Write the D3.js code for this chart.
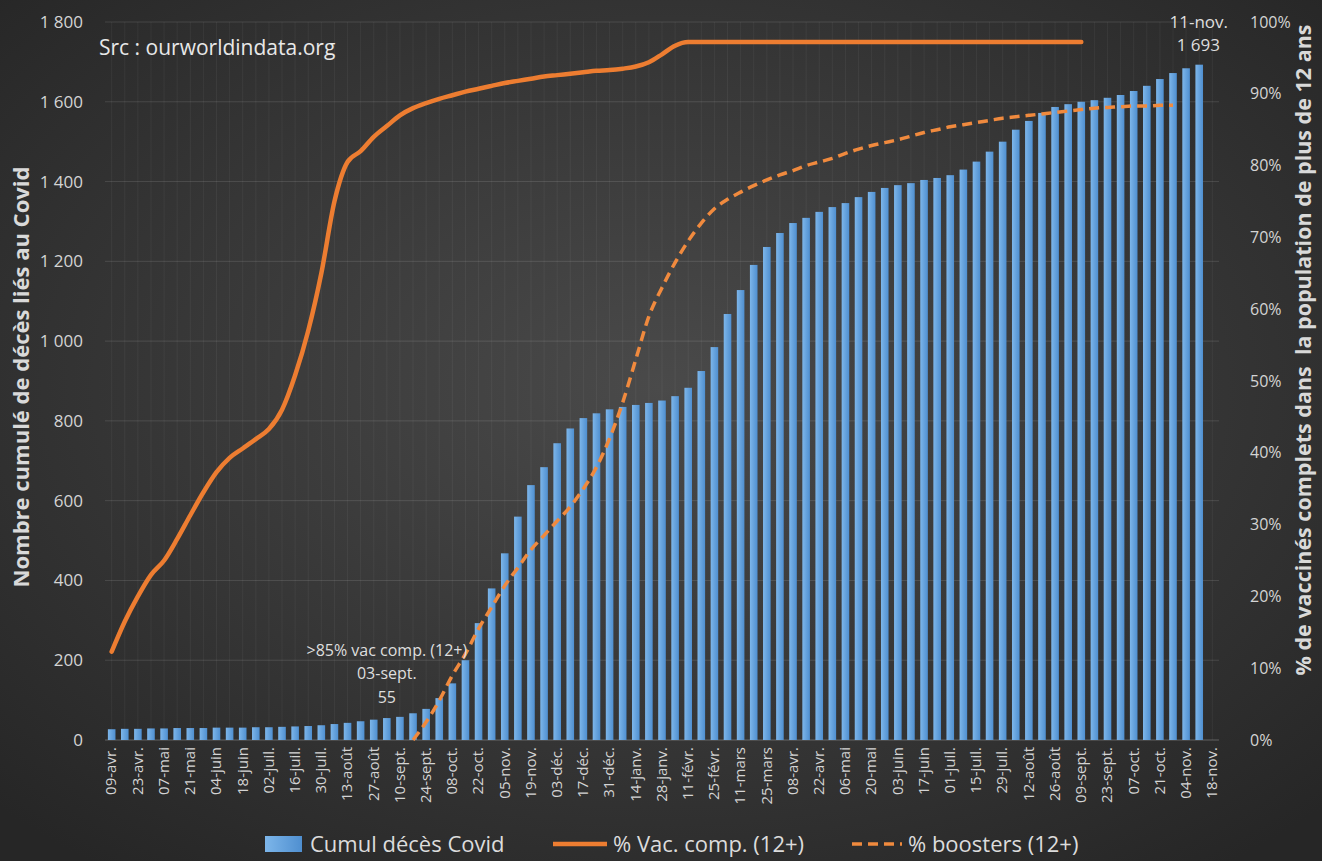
<!DOCTYPE html>
<html>
<head>
<meta charset="utf-8">
<script src="https://cdn.jsdelivr.net/npm/d3@7"></script>
<style>
  body { margin: 0; background: #2e2e2e; }
  svg text { font-family: "Open Sans", "DejaVu Sans", sans-serif; }
</style>
</head>
<body>
<div id="chart"></div>
<script>
// weekly categories, 09-avr. 2021 -> 18-nov. 2022
var weeks = ["09-avr.","16-avr.","23-avr.","30-avr.","07-mai","14-mai","21-mai","28-mai","04-juin","11-juin",
  "18-juin","25-juin","02-juil.","09-juil.","16-juil.","23-juil.","30-juil.","06-août","13-août","20-août",
  "27-août","03-sept.","10-sept.","17-sept.","24-sept.","01-oct.","08-oct.","15-oct.","22-oct.","29-oct.",
  "05-nov.","12-nov.","19-nov.","26-nov.","03-déc.","10-déc.","17-déc.","24-déc.","31-déc.","07-janv.",
  "14-janv.","21-janv.","28-janv.","04-févr.","11-févr.","18-févr.","25-févr.","04-mars","11-mars","18-mars",
  "25-mars","01-avr.","08-avr.","15-avr.","22-avr.","29-avr.","06-mai","13-mai","20-mai","27-mai",
  "03-juin","10-juin","17-juin","24-juin","01-juil.","08-juil.","15-juil.","22-juil.","29-juil.","05-août",
  "12-août","19-août","26-août","02-sept.","09-sept.","16-sept.","23-sept.","30-sept.","07-oct.","14-oct.",
  "21-oct.","28-oct.","04-nov.","11-nov.","18-nov."];

// cumulative Covid deaths (bars)
var deaths = [27,28,28,29,29,30,30,30,31,31,
  31,32,32,33,34,35,37,40,43,47,
  51,55,58,67,78,105,142,200,293,380,
  468,560,639,684,744,781,807,819,829,835,
  840,845,851,862,883,925,985,1068,1128,1191,
  1236,1271,1296,1309,1324,1336,1346,1361,1374,1384,
  1391,1396,1404,1409,1416,1430,1450,1475,1500,1530,
  1552,1572,1587,1594,1600,1604,1610,1617,1627,1640,
  1657,1672,1684,1693];

// % fully vaccinated (12+)
var vacComp = [12.3,16.5,20,23,25,28,31.3,34.5,37.3,39.3,
  40.6,41.9,43.3,46,50.8,57,65,75,80.5,82,
  84,85.5,87,88,88.7,89.3,89.8,90.3,90.7,91.1,
  91.5,91.8,92.1,92.4,92.6,92.8,93,93.2,93.3,93.5,
  93.8,94.4,95.5,96.7,97.2,97.2,97.2,97.2,97.2,97.2,
  97.2,97.2,97.2,97.2,97.2,97.2,97.2,97.2,97.2,97.2,
  97.2,97.2,97.2,97.2,97.2,97.2,97.2,97.2,97.2,97.2,
  97.2,97.2,97.2,97.2,97.2];

// % boosters (12+)
var boosters = [null,null,null,null,null,null,null,null,null,null,
  null,null,null,null,null,null,null,null,null,null,
  null,null,null,0,2.5,5.5,9,12,15.5,18.5,
  21.5,24,26.5,28.5,30.5,32.5,35,38,42,47,
  53,59,63,66.5,69.5,72,74,75.3,76.3,77.2,
  78,78.7,79.3,80,80.5,81,81.7,82.3,82.8,83.2,
  83.6,84.1,84.6,85,85.4,85.7,86,86.3,86.6,86.8,
  87,87.2,87.4,87.6,87.8,88,88.1,88.2,88.3,88.3,
  88.4,88.4];

var leftTicks = [0,200,400,600,800,1000,1200,1400,1600,1800];
var rightTicks = [0,10,20,30,40,50,60,70,80,90,100];

var svgWidth = 1322;
var svgHeight = 861;
var margin = { top: 22, right: 103, bottom: 121, left: 105 };
var width = svgWidth - margin.left - margin.right;
var height = svgHeight - margin.top - margin.bottom;

var svg = d3.select("#chart").append("svg")
  .attr("width", svgWidth)
  .attr("height", svgHeight);

// dark vignette background
var defs = svg.append("defs");
var bg = defs.append("radialGradient").attr("id", "bg")
  .attr("cx", "50%").attr("cy", "45%").attr("r", "70%");
bg.append("stop").attr("offset", "0%").attr("stop-color", "#4a4a4a");
bg.append("stop").attr("offset", "100%").attr("stop-color", "#262626");

var barGrad = defs.append("linearGradient").attr("id", "barGrad")
  .attr("x1", "0").attr("x2", "1").attr("y1", "0").attr("y2", "0");
barGrad.append("stop").attr("offset", "0%").attr("stop-color", "#7db6ea");
barGrad.append("stop").attr("offset", "100%").attr("stop-color", "#4f8fd0");

svg.append("rect").attr("width", svgWidth).attr("height", svgHeight).attr("fill", "url(#bg)");

var chartGroup = svg.append("g")
  .attr("transform", `translate(${margin.left}, ${margin.top})`);

var x = d3.scaleBand().domain(weeks).range([0, width]).paddingInner(0.42).paddingOuter(0.22);
var y = d3.scaleLinear().domain([0, 1800]).range([height, 0]);
var y2 = d3.scaleLinear().domain([0, 100]).range([height, 0]);
var cx = d => x(d) + x.bandwidth() / 2;

// gridlines
chartGroup.append("g").selectAll("line.v")
  .data(weeks).enter().append("line")
  .attr("x1", d => cx(d)).attr("x2", d => cx(d))
  .attr("y1", 0).attr("y2", height)
  .attr("stroke", "#ffffff").attr("stroke-opacity", 0.05);

chartGroup.append("g").selectAll("line.h")
  .data(leftTicks).enter().append("line")
  .attr("x1", 0).attr("x2", width)
  .attr("y1", d => y(d)).attr("y2", d => y(d))
  .attr("stroke", "#ffffff").attr("stroke-opacity", d => d === 0 ? 0.25 : 0.12);

// bars
chartGroup.append("g").selectAll("rect")
  .data(deaths).enter().append("rect")
  .attr("x", (d, i) => x(weeks[i]))
  .attr("y", d => y(d))
  .attr("width", x.bandwidth())
  .attr("height", d => height - y(d))
  .attr("fill", "url(#barGrad)");

// lines
var line = d3.line()
  .defined(d => d != null)
  .x((d, i) => cx(weeks[i]))
  .y(d => y2(d))
  .curve(d3.curveMonotoneX);

chartGroup.append("path").datum(vacComp)
  .attr("d", line).attr("fill", "none")
  .attr("stroke", "#ed7d31").attr("stroke-width", 4.5)
  .attr("stroke-linecap", "round");

chartGroup.append("path").datum(boosters)
  .attr("d", line).attr("fill", "none")
  .attr("stroke", "#f08a3e").attr("stroke-width", 3.5)
  .attr("stroke-dasharray", "10,6");

// axes
var fmt = d3.formatLocale({ decimal: ",", thousands: "\u00a0", grouping: [3], currency: ["", " €"] }).format(",");
var leftAxis = d3.axisLeft(y).tickValues(leftTicks).tickFormat(d => fmt(d)).tickSize(0).tickPadding(22);
var rightAxis = d3.axisRight(y2).tickValues(rightTicks).tickFormat(d => d + "%").tickSize(0).tickPadding(31);
var bottomAxis = d3.axisBottom(x).tickValues(weeks.filter((d, i) => i % 2 === 0)).tickSize(0).tickPadding(6);

var gl = chartGroup.append("g").call(leftAxis);
var gr = chartGroup.append("g").attr("transform", `translate(${width}, 0)`).call(rightAxis);
var gb = chartGroup.append("g").attr("transform", `translate(0, ${height})`).call(bottomAxis);
[gl, gr, gb].forEach(function(g) {
  g.select(".domain").remove();
  g.selectAll("text").attr("fill", "#d4d4d4").attr("font-size", "17px");
});
gr.selectAll("text").attr("font-size", "16px");
gb.selectAll("text")
  .attr("font-size", "15px")
  .attr("transform", "rotate(-90)")
  .attr("text-anchor", "end")
  .attr("dx", "-7px")
  .attr("dy", "0.32em")
  .attr("x", 0).attr("y", 0);

// axis titles
svg.append("text")
  .attr("transform", `translate(29, 377) rotate(-90)`)
  .attr("text-anchor", "middle")
  .attr("font-size", "22px").attr("font-weight", "bold")
  .attr("fill", "#d9d9d9")
  .text("Nombre cumulé de décès liés au Covid");

svg.append("text")
  .attr("transform", `translate(1311, 350) rotate(-90)`)
  .attr("text-anchor", "middle")
  .attr("font-size", "21.5px").attr("font-weight", "bold")
  .attr("fill", "#d9d9d9")
  .attr("xml:space", "preserve")
  .text("% de vaccinés complets dans  la population de plus de 12 ans");

// source
svg.append("text").attr("x", 99).attr("y", 55)
  .attr("font-size", "21px").attr("fill", "#e8e8e8")
  .text("Src : ourworldindata.org");

// annotations
var ann = chartGroup.append("g").attr("fill", "#dedede").attr("font-size", "16px").attr("text-anchor", "middle");
ann.append("text").attr("x", cx("03-sept.")).attr("y", y(55) - 62).text(">85% vac comp. (12+)");
ann.append("text").attr("x", cx("03-sept.")).attr("y", y(55) - 39).text("03-sept.");
ann.append("text").attr("x", cx("03-sept.")).attr("y", y(55) - 15).text("55");

var ann2 = chartGroup.append("g").attr("fill", "#dedede").attr("font-size", "17px").attr("text-anchor", "end");
ann2.append("text").attr("x", width + 9).attr("y", y(1693) - 37).text("11-nov.");
ann2.append("text").attr("x", width + 1).attr("y", y(1693) - 14).text(fmt(1693));

// legend
var legend = svg.append("g").attr("font-size", "22px");
legend.append("rect").attr("x", 265).attr("y", 836).attr("width", 37).attr("height", 16).attr("fill", "url(#barGrad)");
legend.append("text").attr("x", 310).attr("y", 852).attr("fill", "#dcdcdc").text("Cumul décès Covid");
legend.append("line").attr("x1", 553).attr("x2", 607).attr("y1", 844).attr("y2", 844)
  .attr("stroke", "#ed7d31").attr("stroke-width", 4.5);
legend.append("text").attr("x", 613).attr("y", 852).attr("fill", "#dcdcdc").text("% Vac. comp. (12+)");
legend.append("line").attr("x1", 852).attr("x2", 902).attr("y1", 844).attr("y2", 844)
  .attr("stroke", "#f08a3e").attr("stroke-width", 3.5).attr("stroke-dasharray", "10,6");
legend.append("text").attr("x", 908).attr("y", 852).attr("fill", "#dcdcdc").text("% boosters (12+)");
</script>
</body>
</html>
